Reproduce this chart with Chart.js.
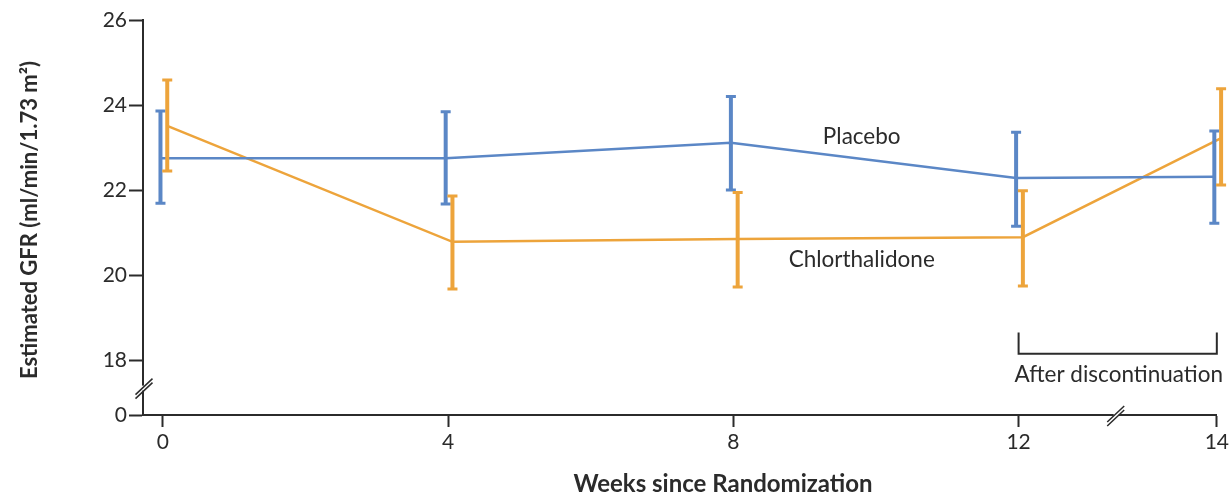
<!DOCTYPE html>
<html>
<head>
<meta charset="utf-8">
<script src="https://cdn.jsdelivr.net/npm/chart.js@4"></script>
<style>
  body { margin: 0; background: #fff; }
  canvas { display: block; }
</style>
</head>
<body>
<canvas id="gfrChart" width="1232" height="497"></canvas>
<script>
// data
const weeks = [0, 4, 8, 12, 14];
const placeboMean = [22.75, 22.75, 23.11, 22.28, 22.31];
const placeboLow  = [21.69, 21.67, 22.00, 21.15, 21.22];
const placeboHigh = [23.86, 23.84, 24.20, 23.36, 23.39];
const chlorMean = [23.51, 20.78, 20.85, 20.89, 23.22];
const chlorLow  = [22.45, 19.67, 19.72, 19.74, 22.12];
const chlorHigh = [24.59, 21.86, 21.94, 21.98, 24.38];
const yTicks = [18, 20, 22, 24, 26];

const FONT = 'Lato, "Open Sans", sans-serif';
const INK = '#2b2b2b';
const BLUE = '#5b87c6';
const ORANGE = '#eda43b';
const Y_ZERO = 16.706;   // where the broken axis shows "0"

// the x axis is broken after week 12, the last gap is stretched
function xPos(w) {
    return w <= 12 ? w : 12 + (w - 12) * 1.39;
}

function makeSeries(label, means, lows, highs, color, shift) {
    return {
        label: label,
        data: weeks.map((w, i) => ({ x: xPos(w) + shift, y: means[i], lo: lows[i], hi: highs[i] })),
        borderColor: color,
        borderWidth: 2.5,
        pointRadius: 0,
        tension: 0,
        fill: false,
        clip: false
    }
}

const errorBars = {
    id: 'errorBars',
    afterDatasetsDraw(chart) {
        const ctx = chart.ctx;
        const ys = chart.scales.y;
        chart.data.datasets.forEach((ds, di) => {
            const meta = chart.getDatasetMeta(di);
            ctx.save();
            ctx.strokeStyle = ds.borderColor;
            ds.data.forEach((d, i) => {
                const px = meta.data[i].x;
                const top = ys.getPixelForValue(d.hi);
                const bot = ys.getPixelForValue(d.lo);
                ctx.lineWidth = 4;
                ctx.beginPath();
                ctx.moveTo(px, top);
                ctx.lineTo(px, bot);
                ctx.stroke();
                ctx.lineWidth = 3;
                ctx.beginPath();
                ctx.moveTo(px - 5, top); ctx.lineTo(px + 5, top);
                ctx.moveTo(px - 5, bot); ctx.lineTo(px + 5, bot);
                ctx.stroke();
            });
            ctx.restore();
        });
    }
};

const decorations = {
    id: 'decorations',
    afterDraw(chart) {
        const ctx = chart.ctx;
        const xs = chart.scales.x;
        const ys = chart.scales.y;
        const area = chart.chartArea;
        ctx.save();

        // axis breaks
        function breakMark(cx, cy) {
            ctx.strokeStyle = INK;
            ctx.lineWidth = 1.5;
            ctx.beginPath();
            ctx.moveTo(cx - 8.5, cy + 8); ctx.lineTo(cx + 8.5, cy - 8);
            ctx.moveTo(cx - 8.5, cy + 12); ctx.lineTo(cx + 8.5, cy - 4);
            ctx.stroke();
        }
        const yb = ys.getPixelForValue(17.35);
        ctx.fillStyle = '#fff';
        ctx.fillRect(area.left - 3, yb - 2, 6, 5);
        breakMark(area.left + 1, yb - 1);
        const xb = xs.getPixelForValue(xPos(12.98));
        ctx.fillRect(xb - 2, area.bottom - 3, 5, 6);
        breakMark(xb, area.bottom - 1);

        // series labels
        ctx.fillStyle = INK;
        ctx.font = '22.5px ' + FONT;
        ctx.textAlign = 'center';
        ctx.textBaseline = 'middle';
        ctx.fillText('Placebo', xs.getPixelForValue(9.8), ys.getPixelForValue(23.25));
        ctx.fillText('Chlorthalidone', xs.getPixelForValue(9.8), ys.getPixelForValue(20.35));

        // after discontinuation bracket
        const bl = xs.getPixelForValue(xPos(12));
        const br = xs.getPixelForValue(xPos(14));
        const bt = ys.getPixelForValue(18.65);
        const bb = ys.getPixelForValue(18.15);
        ctx.strokeStyle = INK;
        ctx.lineWidth = 2;
        ctx.beginPath();
        ctx.moveTo(bl, bt); ctx.lineTo(bl, bb); ctx.lineTo(br, bb); ctx.lineTo(br, bt);
        ctx.stroke();
        ctx.fillText('After discontinuation', (bl + br) / 2 + 1, bb + 21);

        // axis titles
        ctx.font = 'bold 24px ' + FONT;
        ctx.fillText('Weeks since Randomization', 723, 484);
        ctx.translate(30, 220);
        ctx.rotate(-Math.PI / 2);
        ctx.font = 'bold 22px ' + FONT;
        ctx.fillText('Estimated GFR (ml/min/1.73 m\u00B2)', 0, 0);
        ctx.restore();
    }
};

new Chart(document.getElementById('gfrChart').getContext('2d'), {
    type: 'line',
    data: {
        datasets: [
            makeSeries('Placebo', placeboMean, placeboLow, placeboHigh, BLUE, -0.035),
            makeSeries('Chlorthalidone', chlorMean, chlorLow, chlorHigh, ORANGE, 0.06)
        ]
    },
    options: {
        responsive: false,
        animation: false,
        layout: { padding: { top: 20, right: 14, left: 0, bottom: 0 } },
        plugins: { legend: { display: false }, tooltip: { enabled: false } },
        scales: {
            x: {
                type: 'linear',
                min: -0.28,
                max: xPos(14),
                afterBuildTicks: (s) => { s.ticks = weeks.map(w => ({ value: xPos(w), label: String(w) })); },
                afterFit: (s) => { s.height = 82; },
                ticks: {
                    callback: (v) => { const i = weeks.findIndex(w => Math.abs(xPos(w) - v) < 1e-6); return i >= 0 ? String(weeks[i]) : ''; },
                    color: INK,
                    font: { family: FONT, size: 21 },
                    padding: 3,
                    maxRotation: 0,
                    autoSkip: false
                },
                grid: { drawOnChartArea: false, drawTicks: true, tickLength: 12, tickWidth: 2, color: INK },
                border: { display: true, color: INK, width: 2 }
            },
            y: {
                min: Y_ZERO,
                max: 26,
                afterBuildTicks: (s) => { s.ticks = [{ value: Y_ZERO }].concat(yTicks.map(v => ({ value: v }))); },
                afterFit: (s) => { s.width = 143; },
                ticks: {
                    callback: (v) => Math.abs(v - Y_ZERO) < 1e-6 ? '0' : String(v),
                    color: INK,
                    font: { family: FONT, size: 21 },
                    padding: 2,
                    autoSkip: false
                },
                grid: { drawOnChartArea: false, drawTicks: true, tickLength: 14, tickWidth: 2, color: INK },
                border: { display: true, color: INK, width: 2 }
            }
        }
    },
    plugins: [errorBars, decorations]
});
</script>
</body>
</html>
